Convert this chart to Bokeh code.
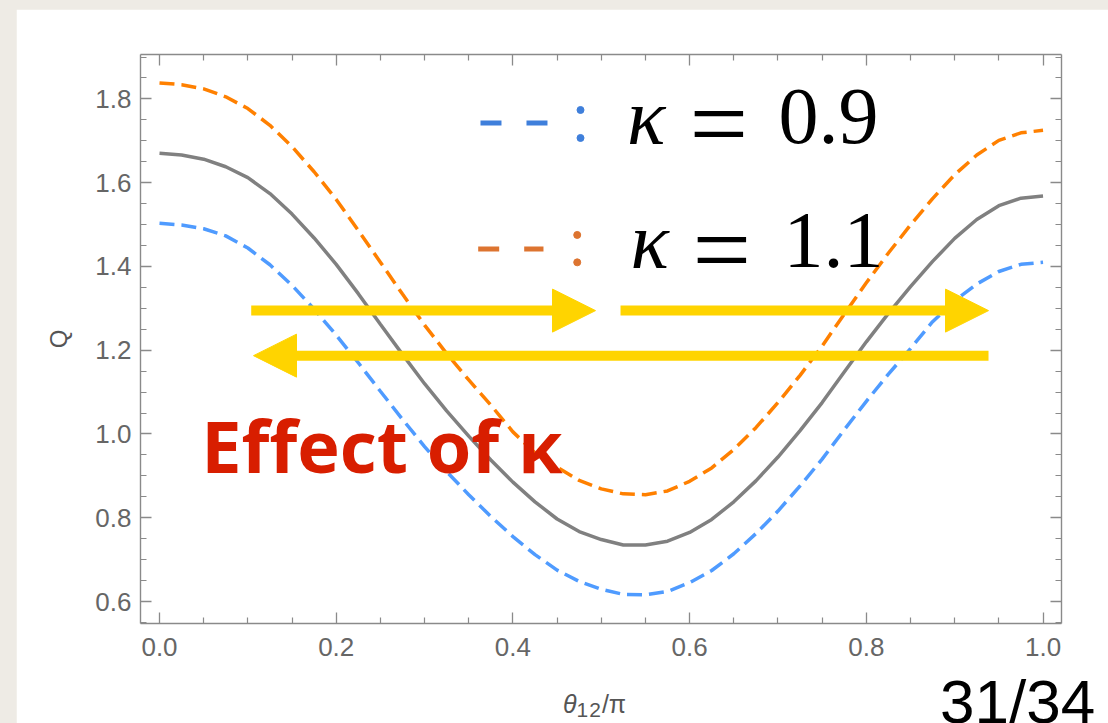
from bokeh.plotting import figure
from bokeh.models import (Range1d, LinearAxis, FixedTicker, Label, Arrow, NormalHead,
                          PrintfTickFormatter, ColumnDataSource, Div)
from bokeh.layouts import column
from bokeh.embed import file_html
from bokeh.resources import INLINE

# ---------------- data ----------------
theta = [0.000, 0.025, 0.050, 0.075, 0.100, 0.125, 0.150, 0.175, 0.200, 0.225,
         0.250, 0.275, 0.300, 0.325, 0.350, 0.375, 0.400, 0.425, 0.450, 0.475,
         0.500, 0.525, 0.550, 0.575, 0.600, 0.625, 0.650, 0.675, 0.700, 0.725,
         0.750, 0.775, 0.800, 0.825, 0.850, 0.875, 0.900, 0.925, 0.950, 0.975, 1.000]
q_kappa_10 = [1.670, 1.666, 1.656, 1.638, 1.612, 1.574, 1.525, 1.468, 1.405, 1.335,
              1.262, 1.190, 1.120, 1.055, 0.995, 0.938, 0.885, 0.838, 0.797, 0.767,
              0.748, 0.735, 0.735, 0.744, 0.765, 0.796, 0.838, 0.888, 0.945, 1.008,
              1.075, 1.148, 1.220, 1.288, 1.352, 1.412, 1.467, 1.512, 1.545, 1.563, 1.568]
q_kappa_11 = [1.838, 1.834, 1.824, 1.805, 1.777, 1.737, 1.686, 1.626, 1.560, 1.486,
              1.410, 1.334, 1.260, 1.192, 1.129, 1.069, 1.005, 0.955, 0.921, 0.889,
              0.869, 0.857, 0.855, 0.864, 0.887, 0.919, 0.963, 1.015, 1.075, 1.140,
              1.210, 1.286, 1.361, 1.432, 1.499, 1.562, 1.619, 1.666, 1.701, 1.719, 1.725]
q_kappa_09 = [1.503, 1.499, 1.490, 1.473, 1.444, 1.404, 1.355, 1.298, 1.236, 1.170,
              1.102, 1.035, 0.970, 0.910, 0.855, 0.803, 0.755, 0.712, 0.675, 0.648,
              0.629, 0.617, 0.616, 0.624, 0.645, 0.674, 0.714, 0.762, 0.816, 0.876,
              0.940, 1.010, 1.078, 1.143, 1.204, 1.268, 1.318, 1.358, 1.388, 1.405, 1.410]

x_major = [0.0, 0.2, 0.4, 0.6, 0.8, 1.0]
x_minor = [0.05, 0.1, 0.15, 0.25, 0.3, 0.35, 0.45, 0.5, 0.55, 0.65, 0.7, 0.75, 0.85, 0.9, 0.95]
y_major = [0.6, 0.8, 1.0, 1.2, 1.4, 1.6, 1.8]
y_minor = [0.55, 0.65, 0.7, 0.75, 0.85, 0.9, 0.95, 1.05, 1.1, 1.15, 1.25, 1.3, 1.35,
           1.45, 1.5, 1.55, 1.65, 1.7, 1.75, 1.85, 1.9]

legend_labels = ["0.9", "1.1"]
page_number = "31/34"

# ---------------- styles ----------------
GRAY = "#808080"
BLUE = "#4F9BFF"
ORANGE = "#FF8000"
GOLD = "#FFD400"
AX = "#8a8a8a"
TICKTXT = "#666666"
PAPER = "#EEEBE5"

p = figure(width=1092, height=714, output_backend="svg", toolbar_location=None,
           x_range=Range1d(-0.0215, 1.0209), y_range=Range1d(0.5475, 1.906),
           min_border_left=124, min_border_right=47, min_border_top=45, min_border_bottom=100,
           background_fill_color="white", border_fill_color="white")
p.grid.visible = False
p.outline_line_color = None

def style_axis(ax, major, minor, labels=True, standoff=9):
    ax.ticker = FixedTicker(ticks=major, minor_ticks=minor)
    ax.axis_line_color = AX
    ax.axis_line_width = 1.4
    ax.major_tick_line_color = AX
    ax.minor_tick_line_color = AX
    ax.major_tick_line_width = 1.3
    ax.minor_tick_line_width = 1.2
    ax.major_tick_in = 11
    ax.major_tick_out = 0
    ax.minor_tick_in = 6
    ax.minor_tick_out = 0
    ax.formatter = PrintfTickFormatter(format="%.1f")
    if labels:
        ax.major_label_text_font = "Liberation Sans"
        ax.major_label_text_font_size = "26px"
        ax.major_label_text_color = TICKTXT
        ax.major_label_standoff = standoff
        ax.axis_label_text_font = "Liberation Sans"
        ax.axis_label_text_font_style = "normal"
        ax.axis_label_text_color = "#555555"
    else:
        ax.major_label_text_font_size = "0px"
        ax.major_label_text_alpha = 0

xa = p.xaxis[0]
ya = p.yaxis[0]
style_axis(xa, x_major, x_minor, standoff=14)
style_axis(ya, y_major, y_minor, standoff=9)
ya.axis_label = "Q"
ya.axis_label_text_font_size = "24px"
ya.axis_label_standoff = 20

top = LinearAxis()
right = LinearAxis()
style_axis(top, x_major, x_minor, labels=False)
style_axis(right, y_major, y_minor, labels=False)
p.add_layout(top, "above")
p.add_layout(right, "right")

src = ColumnDataSource(dict(x=theta, g=q_kappa_10, o=q_kappa_11, b=q_kappa_09))
p.line("x", "b", source=src, line_color=BLUE, line_width=3.5, line_dash="15 7")
p.line("x", "o", source=src, line_color=ORANGE, line_width=3.5, line_dash="15 7")
p.line("x", "g", source=src, line_color=GRAY, line_width=3.5)

# ---------------- legend (annotation) ----------------
LEG_BLUE = "#3F7FDB"
LEG_ORANGE = "#DD7430"
p.segment(x0=[0.3633], y0=[1.7425], x1=[0.4392], y1=[1.7425], line_color=LEG_BLUE,
          line_width=5, line_dash="21 25")
p.segment(x0=[0.3607], y0=[1.4418], x1=[0.4346], y1=[1.4418], line_color=LEG_ORANGE,
          line_width=5, line_dash="21 25")
p.scatter(x=[0.4765, 0.4765], y=[1.7735, 1.7067], size=7, color=LEG_BLUE)
p.scatter(x=[0.4728, 0.4728], y=[1.4752, 1.4098], size=7, color=LEG_ORANGE)

def serif(x, y, t, size, style="normal"):
    p.add_layout(Label(x=x, y=y, text=t, text_font="Liberation Serif", text_font_style=style,
                       text_font_size=size, text_color="black", text_baseline="alphabetic"))

serif(0.5292, 1.7575, "κ", "80px", "italic")
serif(0.5999, 1.7408, "=", "104px")
serif(0.7006, 1.7575, legend_labels[0], "80px")
serif(0.5331, 1.4616, "κ", "80px", "italic")
serif(0.6033, 1.4401, "=", "104px")
serif(0.7063, 1.4616, legend_labels[1], "80px")

# ---------------- arrows ----------------
for (xs, ys, xe, ye) in [(0.1038, 1.2945, 0.4935, 1.2945),
                         (0.5218, 1.2945, 0.9383, 1.2945),
                         (0.9383, 1.187, 0.1064, 1.187)]:
    p.add_layout(Arrow(x_start=xs, y_start=ys, x_end=xe, y_end=ye, line_color=GOLD,
                       line_width=10,
                       end=NormalHead(size=43, fill_color=GOLD, line_color=GOLD, line_width=1)))

p.add_layout(Label(x=0.0472, y=0.974, text="Effect of κ", text_font="Open Sans",
                   text_font_style="bold", text_font_size="72px", text_color="#D81E00",
                   text_baseline="alphabetic"))

# ---------------- x-axis label and page number (HTML overlay strip) ----------------
overlay_html = (
    '<div style="position:relative;width:1092px;height:53px;overflow:hidden;">'
    '<span style="position:absolute;left:547px;top:22px;font-family:\'Liberation Sans\';'
    'font-size:25px;line-height:25px;color:#555555;white-space:nowrap;">'
    '<i>θ</i><span style="font-size:21px;letter-spacing:1px;position:relative;top:4px;">12</span>/π'
    '</span>'
    '<span style="position:absolute;left:924px;top:1px;font-family:\'Liberation Sans\';'
    'font-size:62px;line-height:62px;color:black;white-space:nowrap;">' + page_number + '</span>'
    '</div>'
)
strip = Div(text=overlay_html, width=1092, height=53, margin=(-53, 0, 0, 0))

page = column(p, strip, styles={"background-color": PAPER, "padding": "9px 0px 0px 16px"})

open("out.html", "w").write(file_html(page, INLINE))
